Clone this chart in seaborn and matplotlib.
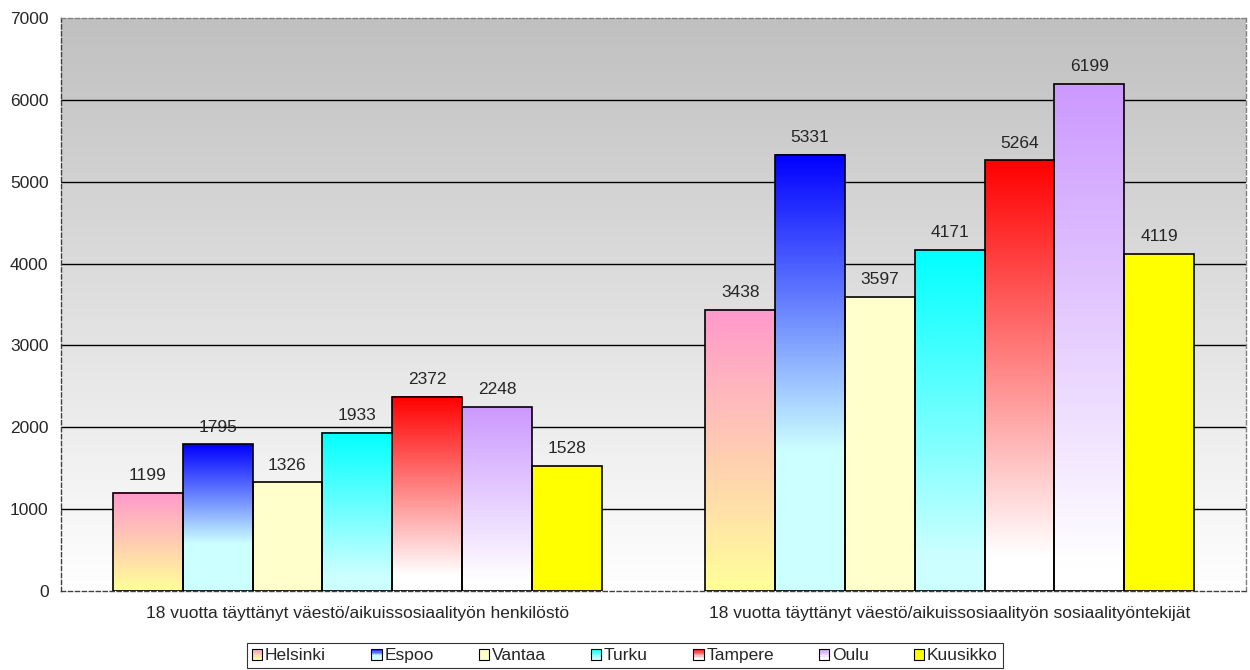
import numpy as np
import pandas as pd
import matplotlib
matplotlib.use("Agg")
import matplotlib.pyplot as plt
from matplotlib.colors import to_rgb
from matplotlib.patches import Rectangle
from matplotlib.legend_handler import HandlerBase
import seaborn as sns

categories = ["18 vuotta täyttänyt väestö/aikuissosiaalityön henkilöstö",
              "18 vuotta täyttänyt väestö/aikuissosiaalityön sosiaalityöntekijät"]
cities = ["Helsinki", "Espoo", "Vantaa", "Turku", "Tampere", "Oulu", "Kuusikko"]
henkilosto = [1199, 1795, 1326, 1933, 2372, 2248, 1528]
sosiaalityontekijat = [3438, 5331, 3597, 4171, 5264, 6199, 4119]

# värit: yläpää, alapää ja kohta (osuus pylvään korkeudesta) jossa alaväri saavutetaan
grad_top = ["#FF99CC", "#0000FF", "#FFFFCC", "#00FFFF", "#FF0000", "#CC99FF", "#FFFF00"]
grad_bottom = ["#FFFF99", "#CCFFFF", "#FFFFCC", "#CCFFFF", "#FFFFFF", "#FFFFFF", "#FFFF00"]
grad_stop = [1.0, 0.68, 1.0, 0.9, 0.92, 0.95, 1.0]

FS = 12.5


def ramp(top, bottom, stop, n=200):
    t = np.clip(np.linspace(0, 1, n) / stop, 0, 1)[:, None]
    return (1 - t) * np.array(to_rgb(top)) + t * np.array(to_rgb(bottom))


class GradientHandler(HandlerBase):
    def create_artists(self, legend, orig_handle, xdescent, ydescent,
                       width, height, fontsize, trans):
        i = cities.index(orig_handle.get_label())
        n = 8
        cols = ramp(grad_top[i], grad_bottom[i], grad_stop[i], n=n)
        x0, y0 = -xdescent, -ydescent
        arts = []
        for k in range(n):
            arts.append(Rectangle((x0, y0 + height * (1 - (k + 1) / n)), width, height / n,
                                  facecolor=cols[k], edgecolor="none", transform=trans))
        arts.append(Rectangle((x0, y0), width, height, fill=False,
                              edgecolor="black", lw=0.8, transform=trans))
        return arts


rows = []
for i, c in enumerate(cities):
    rows.append((categories[0], c, henkilosto[i]))
    rows.append((categories[1], c, sosiaalityontekijat[i]))
df = pd.DataFrame(rows, columns=["kategoria", "kunta", "arvo"])

sns.set_style("white")
plt.rcParams["font.family"] = ["Liberation Sans", "DejaVu Sans"]
plt.rcParams["font.size"] = FS

fig = plt.figure(figsize=(12.5, 6.7), dpi=100)
ax = fig.add_axes([0.0488, 0.118, 0.948, 0.855])

sns.barplot(data=df, x="kategoria", y="arvo", hue="kunta", hue_order=cities,
            order=categories, palette=grad_top, width=0.825, saturation=1,
            edgecolor="black", linewidth=1.2, errorbar=None, legend=False, ax=ax)

# taustan liukuväri harmaasta valkoiseen
bg = np.linspace(0.753, 1.0, 256)[:, None]
ax.imshow(np.dstack([bg, bg, bg]), extent=(0, 1, 0, 1), transform=ax.transAxes,
          aspect="auto", zorder=0, interpolation="bilinear")

for y in range(1000, 7000, 1000):
    ax.axhline(y, color="black", lw=1, zorder=1)

for i, cont in enumerate(ax.containers):
    for bar in cont:
        x0, w, h = bar.get_x(), bar.get_width(), bar.get_height()
        ax.imshow(ramp(grad_top[i], grad_bottom[i], grad_stop[i])[:, None, :],
                  extent=(x0, x0 + w, 0, h), aspect="auto", origin="upper",
                  zorder=2, interpolation="bilinear")
        bar.set_facecolor("none")
        bar.set_zorder(3)
        ax.annotate(f"{h:.0f}", (x0 + w / 2, h), xytext=(0, 9),
                    textcoords="offset points", ha="center", va="baseline",
                    fontsize=FS)

ax.set_xlim(-0.5, 1.5)
ax.set_ylim(0, 7000)
ax.set_yticks(range(0, 8000, 1000))
ax.set_xticks([0, 1])
ax.set_xticks([-0.5, 0.5, 1.5], minor=True)
ax.tick_params(axis="x", which="major", length=0, pad=11, labelsize=FS)
ax.tick_params(axis="x", which="minor", length=5, direction="out", color="#404040")
ax.tick_params(axis="y", length=5, direction="out", color="#404040", pad=4, labelsize=FS)
ax.set_xlabel("")
ax.set_ylabel("")

for s in ["left", "bottom"]:
    ax.spines[s].set_linestyle((0, (3, 2)))
    ax.spines[s].set_color("#404040")
    ax.spines[s].set_linewidth(1)
for s in ["top", "right"]:
    ax.spines[s].set_linestyle((0, (3, 2)))
    ax.spines[s].set_color("#808080")
    ax.spines[s].set_linewidth(1)

handles = [Rectangle((0, 0), 1, 1, label=c) for c in cities]
leg = fig.legend(handles=handles, labels=cities, handler_map={Rectangle: GradientHandler()},
                 loc="upper center", bbox_to_anchor=(0.5, 1 - 643 / 670), ncol=7,
                 fontsize=FS, frameon=True, fancybox=False, shadow=False,
                 handlelength=0.6, handleheight=0.6, handletextpad=0.15,
                 columnspacing=2.6, borderpad=0.3, borderaxespad=0)
leg.get_frame().set_edgecolor("black")
leg.get_frame().set_linewidth(0.8)

fig.savefig("out.png", dpi=100)
